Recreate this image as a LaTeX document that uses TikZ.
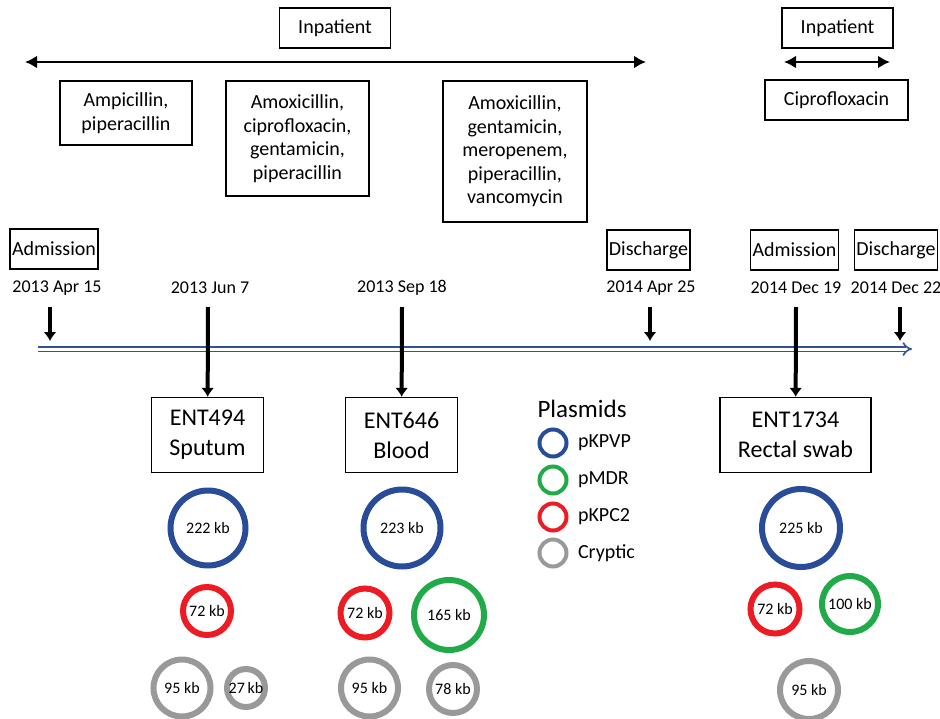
\documentclass[tikz,border=0pt]{standalone}
\usepackage{fontspec}
\setmainfont{Carlito}
\usetikzlibrary{arrows.meta,positioning,calc}

\definecolor{kpvp}{RGB}{41,76,152}
\definecolor{mdr}{RGB}{33,170,72}
\definecolor{kpc}{RGB}{237,28,36}
\definecolor{cryptic}{RGB}{153,153,153}
\definecolor{tline}{RGB}{47,84,150}

\begin{document}
\begin{tikzpicture}[x=1pt,y=-1pt]
% pixel grid of the figure, y goes down
\tikzset{box/.style={draw, line width=1.3pt, align=center, inner sep=2pt, font=\fontsize{20}{23.5}\selectfont}}
\tikzset{isolate/.style={draw, line width=1.3pt, align=center, inner xsep=18pt, minimum height=75pt, font=\fontsize{24}{30}\selectfont}}
\tikzset{date/.style={font=\fontsize{18}{20}\selectfont}}
\tikzset{plasmid/.style={draw, circle, line width=6pt, inner sep=0pt, font=\fontsize{16}{18}\selectfont}}
\tikzset{legendtext/.style={font=\fontsize{20}{24}\selectfont}}
\tikzset{stayarrow/.style={line width=2.5pt, {Latex[length=12pt,width=13pt]}-{Latex[length=12pt,width=13pt]}}}
\tikzset{eventarrow/.style={line width=4pt, -{Latex[length=9pt,width=13pt]}}}
\useasboundingbox (0,0) rectangle (940,718);

% hospital stays and antibiotics
\node[box, minimum width=111pt, minimum height=40pt] (inpat1) at (335,28) {Inpatient};
\coordinate (stay1l) at (25,62);
\coordinate (stay1r) at (646,62);
\draw[stayarrow] (stay1l) -- (stay1r);
\node[box, minimum width=132pt, minimum height=64pt] (drug1) at (126,113) {Ampicillin,\\piperacillin};
\node[box, minimum width=143pt, minimum height=115pt] (drug2) at (297.5,138.5) {Amoxicillin,\\ciprofloxacin,\\gentamicin,\\piperacillin};
\node[box, minimum width=144pt, minimum height=141pt] (drug3) at (515,151.5) {Amoxicillin,\\gentamicin,\\meropenem,\\piperacillin,\\vancomycin};

\node[box, minimum width=111pt, minimum height=40pt] (inpat2) at (837.5,28) {Inpatient};
\coordinate (stay2l) at (784,62);
\coordinate (stay2r) at (890,62);
\draw[stayarrow] (stay2l) -- (stay2r);
\node[box, minimum width=143pt, minimum height=40pt] (drug4) at (836.5,100) {Ciprofloxacin};

% events
\node[box, minimum height=40pt] (adm1) at (54,249) {Admission};
\node[box, minimum height=40pt] (dis1) at (648.5,250) {Discharge};
\node[box, minimum height=40pt] (adm2) at (794.5,250) {Admission};
\node[box, minimum height=40pt] (dis2) at (896,250) {Discharge};

\node[date] (d1) at (57,288) {2013 Apr 15};
\node[date] (d2) at (210,288) {2013 Jun 7};
\node[date] (d3) at (402,288) {2013 Sep 18};
\node[date] (d4) at (651,288) {2014 Apr 25};
\node[date] (d5) at (796,288) {2014 Dec 19};
\node[date] (d6) at (896,288) {2014 Dec 22};

% time line
\coordinate (tstart) at (38,349);
\coordinate (tend) at (912,349);
\draw[draw=tline, line width=1.6pt, double=white, double distance=3pt, -{Implies}] (tstart) -- (tend);

\coordinate (a1) at (50,307);
\coordinate (a1e) at (50,341);
\draw[eventarrow] (a1) -- (a1e);
\coordinate (a4) at (650,307);
\coordinate (a4e) at (650,341);
\draw[eventarrow] (a4) -- (a4e);
\coordinate (a6) at (900,307);
\coordinate (a6e) at (900,341);
\draw[eventarrow] (a6) -- (a6e);

% isolates
\node[isolate] (ent494) at (207.5,435) {ENT494\\Sputum};
\node[isolate] (ent646) at (401.5,435) {ENT646\\Blood};
\node[isolate] (ent1734) at (795.5,435) {ENT1734\\Rectal swab};

\coordinate (s2) at (208,307);
\draw[eventarrow] (s2) -- (ent494);
\coordinate (s3) at (402,307);
\draw[eventarrow] (s3) -- (ent646);
\coordinate (s5) at (796,307);
\draw[eventarrow] (s5) -- (ent1734);

% plasmids of each isolate
\node[plasmid, draw=kpvp, minimum size=75pt] (p494a) at (208,528) {222 kb};
\node[plasmid, draw=kpc, minimum size=48pt] (p494b) at (207,611) {72 kb};
\node[plasmid, draw=cryptic, minimum size=57pt] (p494c) at (182,688) {95 kb};
\node[plasmid, draw=cryptic, minimum size=38pt] (p494d) at (246,688) {27\,kb};

\node[plasmid, draw=kpvp, minimum size=77pt] (p646a) at (402,528) {223 kb};
\node[plasmid, draw=kpc, minimum size=49pt] (p646b) at (365,613) {72 kb};
\node[plasmid, draw=mdr, minimum size=70pt] (p646c) at (449,615) {165 kb};
\node[plasmid, draw=cryptic, minimum size=57pt] (p646d) at (369.5,688) {95 kb};
\node[plasmid, draw=cryptic, minimum size=48pt] (p646e) at (453,689) {78 kb};

\node[plasmid, draw=kpvp, minimum size=78pt] (p1734a) at (801,528) {225 kb};
\node[plasmid, draw=kpc, minimum size=49pt] (p1734b) at (775,609) {72 kb};
\node[plasmid, draw=mdr, minimum size=56pt] (p1734c) at (850,604) {100 kb};
\node[plasmid, draw=cryptic, minimum size=58pt] (p1734d) at (809,690) {95 kb};

% legend
\node[anchor=west, font=\fontsize{25}{30}\selectfont] (legtitle) at (534,409) {Plasmids};
\node[plasmid, draw=kpvp, line width=4pt, minimum size=27pt] (leg1) at (553,443) {};
\node[legendtext, right=6pt of leg1] (leg1t) {pKPVP};
\node[plasmid, draw=mdr, line width=4pt, minimum size=27pt] (leg2) at (553,480) {};
\node[legendtext, right=6pt of leg2] (leg2t) {pMDR};
\node[plasmid, draw=kpc, line width=4pt, minimum size=27pt] (leg3) at (553,517) {};
\node[legendtext, right=6pt of leg3] (leg3t) {pKPC2};
\node[plasmid, draw=cryptic, line width=4pt, minimum size=27pt] (leg4) at (553,553) {};
\node[legendtext, right=6pt of leg4] (leg4t) {Cryptic};

\end{tikzpicture}
\end{document}
